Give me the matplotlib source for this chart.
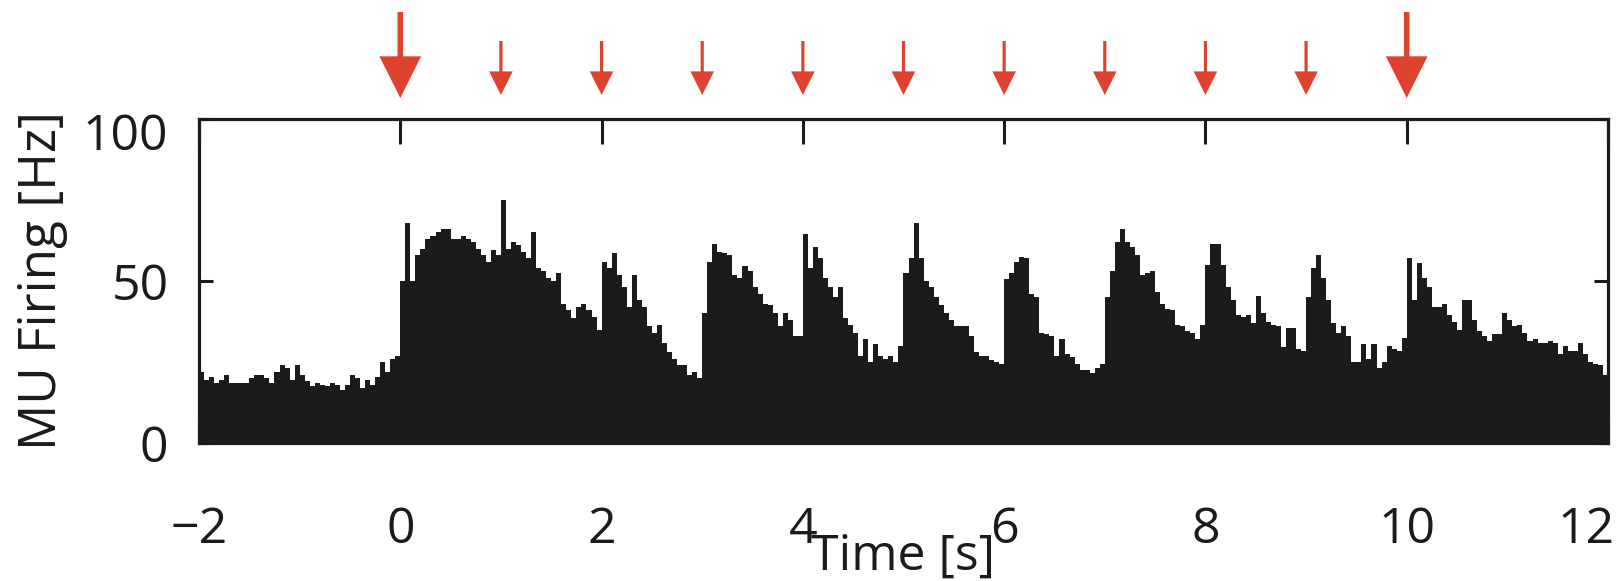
import numpy as np
import matplotlib
matplotlib.use("Agg")
import matplotlib.pyplot as plt
from matplotlib.patches import ArrowStyle
from matplotlib.transforms import ScaledTranslation

plt.rcParams['font.family'] = ['Open Sans', 'DejaVu Sans']

# ---- data: MU firing rate histogram, 0.05 s bins from -2 s to 12 s ----
bin_start = -2.0
bin_stop = 12.0
bin_width = 0.05

rate_m2_0 = [22, 19.5, 20.5, 18.5, 19.5, 21, 18.5, 18.5, 18.5, 18.5,
             20, 21, 21, 20, 18.5, 22, 24, 23, 19.5, 24,
             21, 19, 17.5, 18.5, 18, 17.5, 18.5, 18, 16.5, 18,
             21, 20, 17, 19.5, 18, 20.5, 25, 22, 26, 27]
rate_0_2 = [50, 68, 50, 58, 60, 63, 64, 65, 66, 66,
            63, 63, 64, 63, 62, 60, 58, 56, 59.5, 58,
            75, 60, 62, 61, 59, 57, 65, 54, 53, 51,
            50, 52.5, 43, 41, 38.5, 42, 43, 41, 39, 35]
rate_2_4 = [56, 54, 58.7, 52, 48, 42, 52, 44, 42, 36,
            34, 36.5, 31, 28, 26, 24, 24, 21, 22, 20,
            40, 56, 61.5, 59, 58.5, 58, 52, 51, 54.5, 53,
            48, 46, 43, 42.5, 40, 36, 40, 38, 33, 33]
rate_4_6 = [64.5, 54, 60.5, 57, 51, 48, 45, 48, 38.5, 36.5,
            34, 27, 32, 25, 30.5, 27, 26, 27, 25, 30,
            52.5, 57, 68, 57, 50, 48, 45, 42.5, 40, 38,
            36, 36, 36, 33, 28, 27, 27, 25.5, 25, 24.5]
rate_6_8 = [50.5, 52.5, 56, 57.5, 57, 46, 45, 34, 33.5, 33,
            27, 32, 27.5, 26.5, 24.5, 22.5, 22.5, 21.5, 23, 24.5,
            45, 53, 62, 66, 62, 60.5, 58, 52, 52.5, 53,
            46.5, 43, 41.5, 41, 36.5, 36, 34.5, 34, 32, 36.5]
rate_8_10 = [55, 61.5, 61.5, 55, 48, 44, 39.5, 39, 39.5, 37,
             45.5, 40, 37.5, 36.5, 36, 29.5, 35.5, 35.5, 29, 28.5,
             45, 54, 58, 51, 44, 37, 34, 36, 33, 25,
             25, 30.5, 26, 30.5, 23, 25, 30, 29, 28.5, 32.5]
rate_10_12 = [57, 44, 55.5, 51, 48, 42, 42, 43, 39.5, 37.5,
              35, 44, 44, 38, 34.5, 33, 31.5, 33.5, 33.5, 40,
              38, 36, 36.5, 34, 31.5, 32, 31, 31, 31.5, 31,
              27.5, 30, 28.5, 28.5, 31, 27.5, 25, 24.5, 24, 21]

stim_times = [0, 1, 2, 3, 4, 5, 6, 7, 8, 9, 10]
stim_major = [True, False, False, False, False, False, False, False, False, False, True]

x_ticks = [-2, 0, 2, 4, 6, 8, 10, 12]
y_ticks = [0, 50, 100]
x_label = "Time [s]"
y_label = "MU Firing [Hz]"

rates = np.array(rate_m2_0 + rate_0_2 + rate_2_4 + rate_4_6 + rate_6_8 + rate_8_10 + rate_10_12)
n_bins = int(round((bin_stop - bin_start) / bin_width))
edges = np.linspace(bin_start, bin_stop, n_bins + 1)

# ---- figure ----
W, H = 1624, 581
fig = plt.figure(figsize=(W / 100, H / 100), dpi=100)
ax = fig.add_axes([199 / W, 1 - 443 / H, (1608 - 199) / W, (443 - 119) / H])

ink = '#1b1b1b'
ax.stairs(rates, edges, fill=True, color=ink, baseline=0, lw=0)

ax.set_xlim(bin_start, bin_stop)
ax.set_ylim(0, 100)
ax.set_xticks(x_ticks)
ax.set_yticks(y_ticks)

for sp in ax.spines.values():
    sp.set_linewidth(2.3)
    sp.set_color(ink)

ax.tick_params(axis='x', which='both', direction='in', top=True, bottom=True,
               length=18, width=2.2, color=ink, labelsize=36, pad=45,
               labelcolor=ink)
ax.tick_params(axis='y', which='both', direction='in', left=True, right=True,
               length=10, width=2.2, color=ink, labelsize=36, pad=22,
               labelcolor=ink)

# nudge edge labels as in the reference
fig.canvas.draw()
xlabels = ax.get_xticklabels()
xlabels[-1].set_transform(xlabels[-1].get_transform() +
                          ScaledTranslation(-22 / 100, 0, fig.dpi_scale_trans))
ylabels = ax.get_yticklabels()
ylabels[-1].set_transform(ylabels[-1].get_transform() +
                          ScaledTranslation(0, -12 / 100, fig.dpi_scale_trans))

ax.set_xlabel(x_label, fontsize=36, color=ink)
ax.xaxis.set_label_coords(0.5, -0.275)
ax.set_ylabel(y_label, fontsize=37, color=ink)
ax.yaxis.set_label_coords(-0.093, 0.5)

# ---- stimulus arrows ----
red = '#de432f'
for t, major in zip(stim_times, stim_major):
    if major:
        style = ArrowStyle.Simple(head_length=30, head_width=30, tail_width=4.0)
        y_tail, y_tip = H - 12, H - 98
    else:
        style = ArrowStyle.Simple(head_length=17, head_width=17, tail_width=2.3)
        y_tail, y_tip = H - 41, H - 95
    ax.annotate('', xy=(t, y_tip), xytext=(t, y_tail),
                xycoords=('data', 'figure pixels'),
                textcoords=('data', 'figure pixels'),
                arrowprops=dict(arrowstyle=style, mutation_scale=1,
                                shrinkA=0, shrinkB=0, color=red, lw=0),
                annotation_clip=False)

fig.savefig('out.png', dpi=100, facecolor='white')
